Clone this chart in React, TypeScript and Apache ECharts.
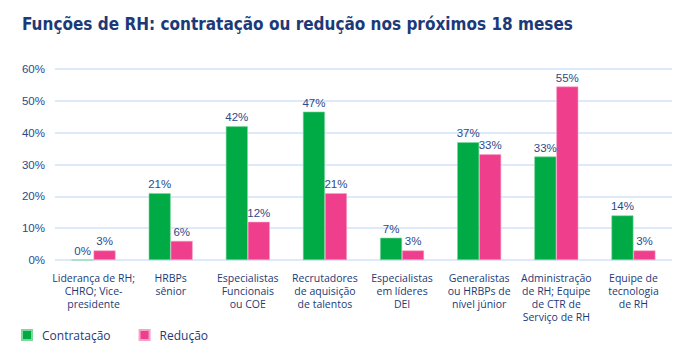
import React, { useEffect, useRef } from "react";
import * as echarts from "echarts";

const categories = [
  "Liderança de RH;\nCHRO; Vice-\npresidente",
  "HRBPs\nsênior",
  "Especialistas\nFuncionais\nou COE",
  "Recrutadores\nde aquisição\nde talentos",
  "Especialistas\nem líderes\nDEI",
  "Generalistas\nou HRBPs de\nnível júnior",
  "Administração\nde RH; Equipe\nde CTR de\nServiço de RH",
  "Equipe de\ntecnologia\nde RH",
];
const contratacao = [0, 21, 42, 46.6, 7, 37, 32.5, 14];
const reducao = [3, 6, 12, 21, 3, 33.2, 54.5, 3];
const yTicks = [0, 10, 20, 30, 40, 50, 60];

const NAVY = "#1c3a78";
const GREEN = "#00ab45";
const PINK = "#ee3e8c";

export default function App() {
  const ref = useRef<HTMLDivElement>(null);
  useEffect(() => {
    if (!ref.current) return;
    const chart = echarts.init(ref.current, undefined, { renderer: "svg" });
    const labelCfg = {
      show: true,
      position: "top" as const,
      distance: 3,
      color: "#2b4a8b",
      fontSize: 11.5,
      fontFamily: "Liberation Sans, Arial, sans-serif",
      formatter: (p: any) => Math.round(p.value) + "%",
    };
    chart.setOption({
      animation: false,
      title: {
        text: "Funções de RH: contratação ou redução nos próximos 18 meses",
        left: 17,
        top: 10,
        textStyle: {
          color: NAVY,
          fontSize: 17,
          fontWeight: "bold",
          fontFamily: "Liberation Sans Narrow, DejaVu Sans Condensed, sans-serif",
        },
      },
      legend: {
        left: 16,
        bottom: 3,
        itemWidth: 10,
        itemHeight: 10,
        itemGap: 28,
        icon: "rect",
        textStyle: {
          color: NAVY,
          fontSize: 12,
          fontFamily: "Open Sans, sans-serif",
          padding: [0, 0, 0, 5],
        },
        data: ["Contratação", "Redução"],
      },
      grid: { left: 55, right: 9, top: 69, bottom: 89 },
      xAxis: {
        type: "category",
        data: categories,
        axisLine: { show: false },
        axisTick: { show: false },
        axisLabel: {
          interval: 0,
          color: NAVY,
          fontSize: 10.5,
          lineHeight: 13,
          margin: 11,
          fontFamily: "Open Sans, sans-serif",
        },
      },
      yAxis: {
        type: "value",
        min: 0,
        max: 60,
        interval: 10,
        axisLabel: {
          formatter: (v: number) => (yTicks.includes(v) ? v + "%" : ""),
          color: "#2b4a8b",
          fontSize: 11.5,
          margin: 10,
          fontFamily: "Liberation Sans, Arial, sans-serif",
        },
        splitLine: { lineStyle: { color: "#d3e2f7", width: 1.5 } },
      },
      series: [
        {
          name: "Contratação",
          type: "bar",
          data: contratacao,
          barWidth: 22,
          barGap: "0%",
          itemStyle: { color: GREEN, borderColor: "#7fd6a0", borderWidth: 0.6 },
          label: labelCfg,
        },
        {
          name: "Redução",
          type: "bar",
          data: reducao,
          barWidth: 22,
          barGap: "0%",
          itemStyle: { color: PINK, borderColor: "#f7a3c8", borderWidth: 0.6 },
          label: labelCfg,
        },
      ],
    });
    return () => chart.dispose();
  }, []);
  return <div ref={ref} style={{ width: 681, height: 349, position: "absolute", left: 0, top: 0, background: "#fff" }} />;
}
